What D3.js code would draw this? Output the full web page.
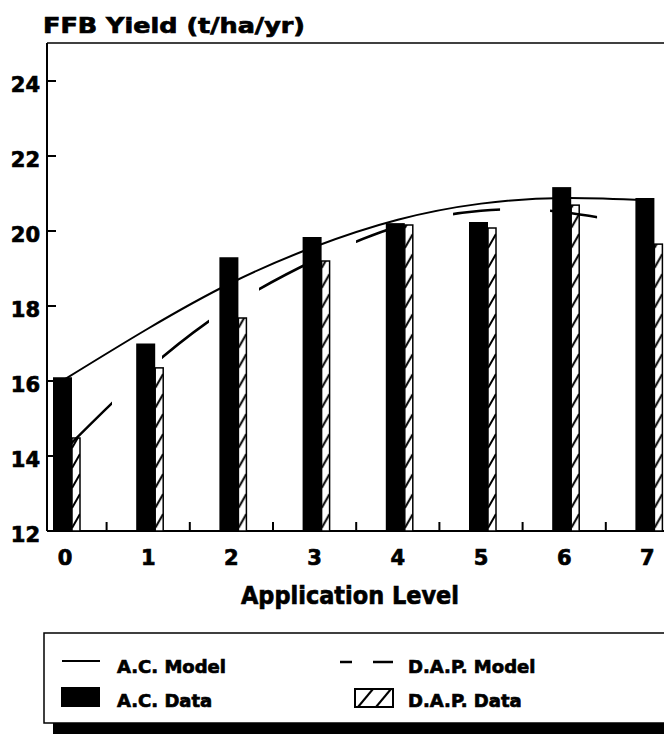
<!DOCTYPE html>
<html><head><meta charset="utf-8">
<script src="https://cdn.jsdelivr.net/npm/d3@7"></script>
<style>
body{margin:0;background:#fff}
svg{display:block}
text{font-family:"DejaVu Sans",sans-serif;font-weight:bold;fill:#000;stroke:#000;stroke-width:0.7px}
</style>
</head><body>
<svg id="c" width="664" height="734"></svg>
<script>
// ---- data ----
const levels = [0, 1, 2, 3, 4, 5, 6, 7];
const xTickLabels = ["0", "1", "2", "3", "4", "5", "6", "7"];
const acData  = [16.1, 17.0, 19.3, 19.84, 20.21, 20.24, 21.17, 20.88];
const dapData = [14.48, 16.35, 17.68, 19.2, 20.16, 20.08, 20.69, 19.65];
const acModel  = [16.05, 17.4, 18.62, 19.58, 20.3, 20.73, 20.88, 20.82];
const dapModel = [14.17, 16.31, 18.0, 19.22, 20.12, 20.54, 20.5, 20.1];
const yTicks = [12, 14, 16, 18, 20, 22, 24];
const minorTicks = [0.5, 1.5, 2.5, 3.5, 4.5, 5.5, 6.5, 7.5];
const titleText = "FFB Yield (t/ha/yr)";
const xTitleText = "Application Level";
const legendLabels = ["A.C. Model", "D.A.P. Model", "A.C. Data", "D.A.P. Data"];

// ---- layout ----
const W = 664, H = 734;
const pL = 47, pT = 43, pB = 531, pR = 664;
const svg = d3.select("#c");
svg.append("rect").attr("width", W).attr("height", H).attr("fill", "#fff");

const y = d3.scaleLinear().domain([12, 25]).range([pB, pT + 0.5]);
const x = d3.scaleLinear().domain([0, 7]).range([65, 647.4]);

const defs = svg.append("defs");

// hatch patterns (one per bar, aligned to the bar)
const hatchW = 8, hatchH = 20;
levels.forEach((l, i) => {
  const p = defs.append("pattern").attr("id", "h" + i)
    .attr("patternUnits", "userSpaceOnUse")
    .attr("x", x(l) + 7).attr("y", pB)
    .attr("width", hatchW).attr("height", hatchH);
  p.append("rect").attr("width", hatchW).attr("height", hatchH).attr("fill", "#fff");
  p.append("line").attr("x1", 0).attr("y1", 17).attr("x2", hatchW).attr("y2", 3)
    .attr("stroke", "#000").attr("stroke-width", 2);
});

// dash clip for D.A.P. model (dashes equally spaced along x)
const period = 1.166, dashLen = 0.565;
const starts = d3.range(0, 7, period);
defs.append("clipPath").attr("id", "dashclip")
  .selectAll("rect").data(starts).join("rect")
  .attr("x", d => x(d)).attr("y", 0)
  .attr("width", d => x(Math.min(d + dashLen, 7.05)) - x(d)).attr("height", H);

// ---- title ----
svg.append("text").attr("x", 43).attr("y", 33)
  .attr("font-size", 21).attr("textLength", 262).attr("lengthAdjust", "spacingAndGlyphs")
  .text(titleText);

// ---- frame ----
svg.append("line").attr("x1", pL).attr("x2", pR).attr("y1", pT).attr("y2", pT)
  .attr("stroke", "#000").attr("stroke-width", 1.5);
svg.append("line").attr("x1", pL).attr("x2", pL).attr("y1", pT).attr("y2", pB)
  .attr("stroke", "#000").attr("stroke-width", 2);
svg.append("line").attr("x1", pL).attr("x2", pR).attr("y1", pB).attr("y2", pB)
  .attr("stroke", "#000").attr("stroke-width", 2);

// y axis ticks & labels
svg.selectAll(".yt").data(yTicks.filter(d => d !== 12)).join("line")
  .attr("x1", pL).attr("x2", pL + 9).attr("y1", d => y(d)).attr("y2", d => y(d))
  .attr("stroke", "#000").attr("stroke-width", 2);
svg.selectAll(".yl").data(yTicks).join("text")
  .attr("x", 40).attr("y", d => y(d) + 10.5).attr("text-anchor", "end")
  .attr("font-size", 21).text(d => d);

// x minor ticks
svg.selectAll(".xt").data(minorTicks).join("line")
  .attr("x1", d => x(d)).attr("x2", d => x(d)).attr("y1", pB).attr("y2", pB - 9)
  .attr("stroke", "#000").attr("stroke-width", 2);
// x labels
svg.selectAll(".xl").data(levels).join("text")
  .attr("x", d => x(d)).attr("y", 565).attr("text-anchor", "middle")
  .attr("font-size", 21).text((d, i) => xTickLabels[i]);
svg.append("text").attr("x", 350).attr("y", 604).attr("text-anchor", "middle")
  .attr("font-size", 25).attr("textLength", 218).attr("lengthAdjust", "spacingAndGlyphs")
  .text(xTitleText);

// ---- bars ----
svg.selectAll(".ac").data(acData).join("rect")
  .attr("x", (d, i) => x(levels[i]) - 12).attr("width", 19)
  .attr("y", d => y(d)).attr("height", d => pB - y(d)).attr("fill", "#000");
svg.selectAll(".dap").data(dapData).join("rect")
  .attr("x", (d, i) => x(levels[i]) + 7).attr("width", 8)
  .attr("y", d => y(d)).attr("height", d => pB - y(d))
  .attr("fill", (d, i) => "url(#h" + i + ")").attr("stroke", "#000").attr("stroke-width", 1.5);

// ---- model lines ----
const line = d3.line().x((d, i) => x(levels[i])).y(d => y(d)).curve(d3.curveNatural);
svg.append("path").attr("d", line(acModel)).attr("fill", "none")
  .attr("stroke", "#000").attr("stroke-width", 2);
svg.append("path").attr("d", line(dapModel)).attr("fill", "none")
  .attr("stroke", "#000").attr("stroke-width", 2.5).attr("clip-path", "url(#dashclip)");

// ---- legend ----
const lg = svg.append("g");
lg.append("rect").attr("x", 53).attr("y", 642).attr("width", 640).attr("height", 100).attr("fill", "#000");
lg.append("rect").attr("x", 44).attr("y", 633).attr("width", 640).attr("height", 90)
  .attr("fill", "#fff").attr("stroke", "#000").attr("stroke-width", 1.5);
lg.append("line").attr("x1", 62).attr("x2", 100).attr("y1", 661).attr("y2", 661)
  .attr("stroke", "#000").attr("stroke-width", 2);
lg.append("text").attr("x", 117).attr("y", 673).attr("font-size", 18).text(legendLabels[0]);
lg.selectAll(".ld").data([[340, 352], [373, 393]]).join("line")
  .attr("x1", d => d[0]).attr("x2", d => d[1]).attr("y1", 662).attr("y2", 662)
  .attr("stroke", "#000").attr("stroke-width", 2.5);
lg.append("text").attr("x", 408).attr("y", 673).attr("font-size", 18).text(legendLabels[1]);
lg.append("rect").attr("x", 61).attr("y", 687).attr("width", 39).attr("height", 20).attr("fill", "#000");
lg.append("text").attr("x", 117).attr("y", 707).attr("font-size", 18).text(legendLabels[2]);
lg.append("rect").attr("x", 355).attr("y", 689).attr("width", 38).attr("height", 18)
  .attr("fill", "#fff").attr("stroke", "#000").attr("stroke-width", 2);
lg.selectAll(".lh").data([[358, 373], [376, 391]]).join("line")
  .attr("x1", d => d[0]).attr("x2", d => d[1]).attr("y1", 707).attr("y2", 689)
  .attr("stroke", "#000").attr("stroke-width", 2);
lg.append("text").attr("x", 408).attr("y", 707).attr("font-size", 18).text(legendLabels[3]);
</script>
</body></html>
